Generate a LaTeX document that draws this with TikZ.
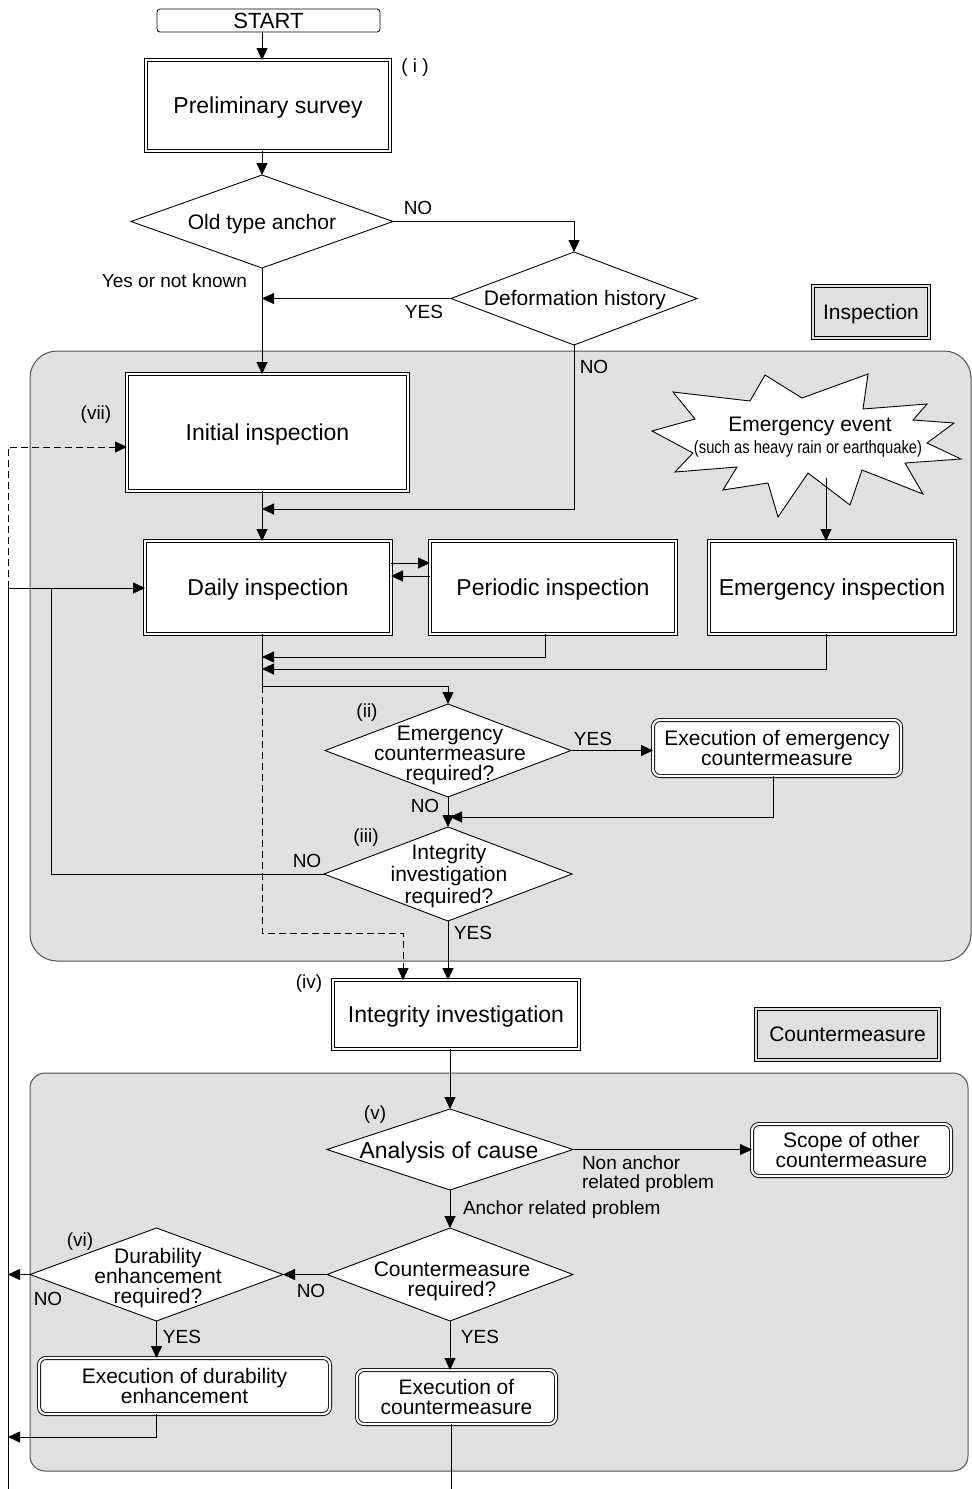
\documentclass[tikz,border=0pt]{standalone}
\usepackage{graphicx}
\usepackage{fontspec}
\setmainfont{Liberation Sans}
\usetikzlibrary{shapes.geometric,arrows.meta,calc}
\definecolor{panelgray}{gray}{0.88}
\definecolor{rimgray}{gray}{0.32}
\begin{document}
\begin{tikzpicture}[x=1pt,y=-1pt,
  every node/.style={inner sep=0pt,outer sep=0pt,text depth=0pt},
  conn/.style={line width=0.9pt},
  arr/.style={conn,-{Triangle[length=12pt,width=11pt]}},
  dashconn/.style={conn,dash pattern=on 7pt off 4pt},
  panel/.style={draw=rimgray,fill=panelgray,line width=1pt},
  bigbox/.style={draw,line width=0.9pt,double=white,double distance=2.2pt,fill=white,align=center,font=\fontsize{23}{26}\selectfont},
  roundbox/.style={bigbox,rounded corners=7pt,font=\fontsize{21}{20}\selectfont},
  tagbox/.style={bigbox,double=panelgray,fill=panelgray,font=\fontsize{21}{24}\selectfont},
  startbox/.style={draw,line width=0.8pt,rounded corners=3pt,fill=white,font=\fontsize{22}{24}\selectfont},
  dia/.style={diamond,draw,fill=white,line width=0.9pt},
  diatext/.style={align=center,font=\fontsize{21}{20}\selectfont},
  bigtext/.style={align=center,font=\fontsize{23}{26}\selectfont},
  lab/.style={font=\fontsize{19}{19}\selectfont},
]
\useasboundingbox (0,0) rectangle (972,1489);

% grey group panels
\draw[panel,rounded corners=27pt] (30,351) rectangle (971,961);
\draw[panel,rounded corners=15pt] (30,1073) rectangle (968,1471);

% emergency event burst
\draw[fill=white,line width=0.9pt] (652,431) -- (695,419) -- (673,392) -- (750,401) -- (765,375)
  -- (802,398) -- (868,374) -- (863,409) -- (927,404) -- (913,420) -- (954,423) -- (927,443)
  -- (961,459) -- (905,463) -- (923,494) -- (862,470) -- (850,505) -- (808,473) -- (778,517)
  -- (768,483) -- (723,490) -- (737,467) -- (675,472) -- (693,453) -- cycle;
\node[font=\fontsize{21}{22}\selectfont] (evt1) at (810,424) {Emergency event};
\node (evt2) at (808,447) {\scalebox{0.82}[1]{\fontsize{18}{18}\selectfont (such as heavy rain or earthquake)}};

% boxes
\node[startbox,minimum width=223pt,minimum height=23pt] (start) at (268.5,20.5) {START};
\node[bigbox,minimum width=244pt,minimum height=91pt] (pre) at (268,105.5) {Preliminary survey};
\node[bigbox,minimum width=281pt,minimum height=117pt] (init) at (267.5,432.5) {Initial inspection};
\node[bigbox,minimum width=246pt,minimum height=93pt] (daily) at (268,587.5) {Daily inspection};
\node[bigbox,minimum width=246pt,minimum height=93pt] (per) at (553,587.5) {Periodic inspection};
\node[bigbox,minimum width=246pt,minimum height=93pt] (emg) at (832,587.5) {Emergency inspection};
\node[bigbox,minimum width=246pt,minimum height=69pt] (ii) at (456,1014.5) {Integrity investigation};
\node[tagbox,minimum width=116pt,minimum height=52pt] (tagI) at (871,312) {Inspection};
\node[tagbox,minimum width=183pt,minimum height=51pt] (tagC) at (847.5,1034.5) {Countermeasure};
\node[roundbox,minimum width=248pt,minimum height=56pt] (eecm) at (777,748) {Execution of emergency\\countermeasure};
\node[roundbox,minimum width=199pt,minimum height=52pt] (scope) at (851.5,1150) {Scope of other\\countermeasure};
\node[roundbox,minimum width=291pt,minimum height=56pt] (edur) at (184.5,1386) {Execution of durability\\enhancement};
\node[roundbox,minimum width=199pt,minimum height=54pt] (ecm2) at (456.5,1397) {Execution of\\countermeasure};

% decisions
\node[dia,minimum width=262pt,minimum height=93pt] (old) at (262,221.5) {};
\node[diatext] (oldt) at (262,222) {Old type anchor};
\node[dia,minimum width=246pt,minimum height=93pt] (def) at (574,298.5) {};
\node[diatext] (deft) at (575,298) {Deformation history};
\node[dia,minimum width=246pt,minimum height=93pt] (ecm) at (448,750.5) {};
\node[diatext] (ecmt) at (450,753) {Emergency\\countermeasure\\required?};
\node[dia,minimum width=248pt,minimum height=94pt] (iir) at (448,874) {};
\node[diatext,font=\fontsize{21}{22}\selectfont] (iirt) at (449,874) {Integrity\\investigation\\required?};
\node[dia,minimum width=246pt,minimum height=81pt] (ana) at (450,1149.5) {};
\node[bigtext] (anat) at (449,1150) {Analysis of cause};
\node[dia,minimum width=246pt,minimum height=93pt] (cmr) at (450,1274.5) {};
\node[diatext] (cmrt) at (452,1279) {Countermeasure\\required?};
\node[dia,minimum width=253pt,minimum height=93pt] (dur) at (156.5,1274.5) {};
\node[diatext] (durt) at (158,1276) {Durability\\enhancement\\required?};

% labels
\node[lab] (ti) at (415,66) {( i )};
\node[lab] (lno1) at (418,208) {NO};
\node[lab,anchor=east] (lyk) at (247,281) {Yes or not known};
\node[lab] (lyes1) at (424,312) {YES};
\node[lab] (lno2) at (594,367) {NO};
\node[lab] (tvii) at (96,413) {(vii)};
\node[lab] (tii) at (367,711) {(ii)};
\node[lab] (lyes2) at (593,739) {YES};
\node[lab] (lno3) at (425,806) {NO};
\node[lab] (tiii) at (366,836) {(iii)};
\node[lab] (lno4) at (307,861) {NO};
\node[lab] (lyes3) at (473,933) {YES};
\node[lab] (tiv) at (309,982) {(iv)};
\node[lab] (tv) at (375,1113) {(v)};
\node[lab,anchor=west,align=left] (lnon) at (582,1172) {Non anchor\\related problem};
\node[lab,anchor=west] (lanc) at (463,1208) {Anchor related problem};
\node[lab] (tvi) at (80,1240) {(vi)};
\node[lab] (lno5) at (311,1291) {NO};
\node[lab] (lno6) at (48,1299) {NO};
\node[lab] (lyes4) at (182,1337) {YES};
\node[lab] (lyes5) at (480,1337) {YES};

% routing points
\coordinate (tr) at (262,0);
\coordinate (j1) at (262,509);
\coordinate (j2) at (262,657);
\coordinate (j3) at (262,669);
\coordinate (j4) at (262,686);
\coordinate (j5) at (262,933);
\coordinate (j6) at (450,817);
\coordinate (j7) at (51,588);
\coordinate (j8) at (8,1437);
\coordinate (evb) at (826,478);
\coordinate (L0) at (8,1489);
\coordinate (L2) at (8,588);
\coordinate (L3) at (8,447);
\coordinate (bot) at (451,1489);

% connectors
\draw[arr] (start.south -| tr) -- (pre.north -| tr);
\draw[arr] (pre.south -| tr) -- (old.north);
\draw[arr] (old.east) -| (def.north);
\draw[arr] (def.west) -- (def.west -| tr);
\draw[arr] (old.south) -- (old.south |- init.north);
\draw[arr] (def.south) |- (j1);
\draw[arr] (init.south -| tr) -- (daily.north -| tr);
\draw[arr] (evb) -- (evb |- emg.north);
\draw[arr] ([yshift=24.5pt]daily.east) -- ([yshift=24.5pt]per.west);
\draw[arr] ([yshift=11.5pt]per.west) -- ([yshift=11.5pt]daily.east);
\draw[arr] ([xshift=-8pt]per.south) |- (j2);
\draw[arr] ([xshift=-6pt]emg.south) |- (j3);
\draw[arr] (daily.south -| tr) -- (j4) -| (ecm.north);
\draw[dashconn,-{Triangle[length=12pt,width=11pt]}] (j4) -- (j5) -| ([xshift=-53pt]ii.north);
\draw[arr] (ecm.east) -- (ecm.east -| eecm.west);
\draw[arr] ([xshift=-4pt]eecm.south) |- (j6);
\draw[arr] (ecm.south) -- (iir.north);
\draw[conn] (iir.west) -| (j7);
\draw[arr] (iir.south) -- (iir.south |- ii.north);
\draw[arr] (ana.north |- ii.south) -- (ana.north);
\draw[arr] (ana.east) -- (ana.east -| scope.west);
\draw[arr] (ana.south) -- (cmr.north);
\draw[arr] (cmr.west) -- (dur.east);
\draw[arr] (dur.west) -- (dur.west -| L0);
\draw[arr] (dur.south) -- (dur.south |- edur.north);
\draw[arr] (dur.south |- edur.south) |- (j8);
\draw[arr] (cmr.south) -- (cmr.south |- ecm2.north);
\draw[conn] (bot |- ecm2.south) -- (bot);
\draw[arr] (L0) -- (L2) -- (daily.west |- L2);
\draw[dashconn,-{Triangle[length=12pt,width=11pt]}] (L2) -- (L3) -- (L3 -| init.west);
\end{tikzpicture}
\end{document}
